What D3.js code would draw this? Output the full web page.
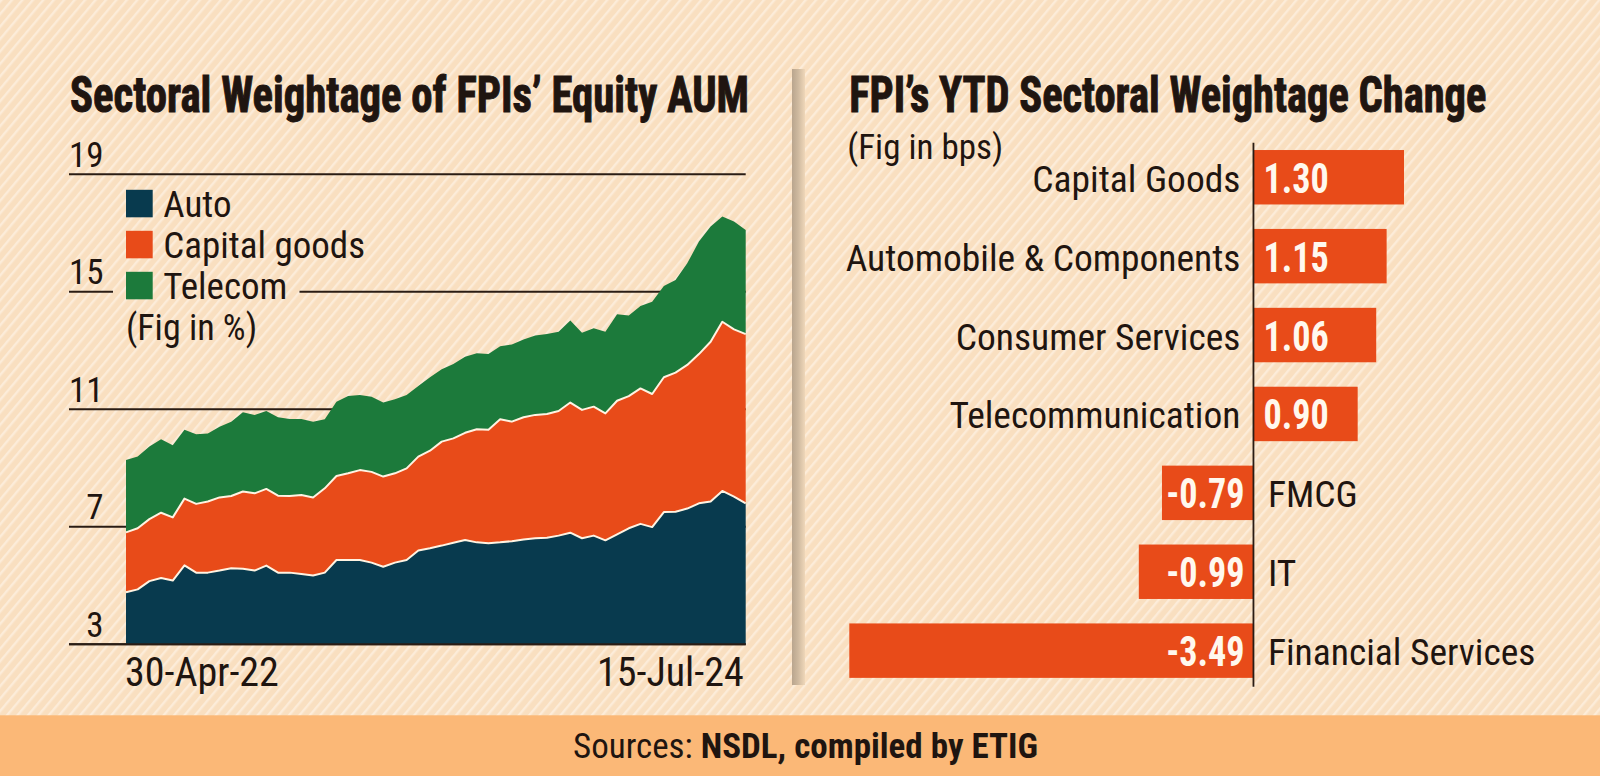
<!DOCTYPE html>
<html><head><meta charset="utf-8">
<script src="https://cdn.jsdelivr.net/npm/d3@7"></script>
<style>
html,body{margin:0;padding:0;background:#f8dcbc;overflow:hidden}
svg{display:block}
</style></head><body>
<svg id="chart" width="1600" height="776"></svg>
<script>
// ---------------- DATA ----------------
const areaSeries = ["Auto", "Capital goods", "Telecom"];
const autoValues = [4.77,4.87,5.15,5.26,5.17,5.69,5.44,5.44,5.51,5.59,5.57,5.51,5.68,5.44,5.44,5.39,5.34,5.44,5.87,5.87,5.87,5.78,5.64,5.78,5.87,6.19,6.27,6.36,6.46,6.55,6.47,6.44,6.47,6.51,6.57,6.61,6.63,6.70,6.80,6.61,6.70,6.54,6.74,6.95,7.10,6.99,7.50,7.51,7.62,7.80,7.86,8.22,8.03,7.80];
const capitalGoodsValues = [2.04,2.08,2.11,2.22,2.15,2.27,2.34,2.42,2.49,2.46,2.63,2.63,2.61,2.62,2.61,2.69,2.66,2.87,2.86,2.95,3.06,3.09,3.07,3.04,3.12,3.20,3.32,3.54,3.55,3.65,3.85,3.86,4.19,4.07,4.16,4.20,4.21,4.24,4.43,4.37,4.39,4.32,4.55,4.50,4.61,4.53,4.59,4.74,4.89,5.08,5.44,5.76,5.69,5.76];
const telecomValues = [2.46,2.44,2.47,2.50,2.46,2.34,2.37,2.32,2.41,2.53,2.70,2.67,2.65,2.67,2.62,2.59,2.58,2.35,2.53,2.63,2.56,2.56,2.52,2.52,2.50,2.40,2.50,2.46,2.53,2.59,2.59,2.58,2.49,2.63,2.65,2.70,2.72,2.70,2.79,2.63,2.67,2.78,2.95,2.74,2.81,3.14,3.11,3.15,3.46,3.83,3.92,3.58,3.67,3.54];
const xTickLabels = ["30-Apr-22", "15-Jul-24"];
const yTickValues = [3, 7, 11, 15, 19];

const barCategories = ["Capital Goods","Automobile & Components","Consumer Services","Telecommunication","FMCG","IT","Financial Services"];
const barValues = [1.30, 1.15, 1.06, 0.90, -0.79, -0.99, -3.49];
const barLabels = ["1.30","1.15","1.06","0.90","-0.79","-0.99","-3.49"];

const leftTitle = "Sectoral Weightage of FPIs\u2019 Equity AUM";
const rightTitle = "FPI\u2019s YTD Sectoral Weightage Change";
const leftNote = "(Fig in %)";
const rightNote = "(Fig in bps)";
const sourceLabel = "Sources: ";
const sourceText = "NSDL, compiled by ETIG";

// ---------------- STYLE ----------------
const FONT = "'Liberation Sans Narrow','Arial Narrow','Roboto Condensed','DejaVu Sans Condensed',sans-serif";
const INK = "#1f1510";
const colors = {"Auto": "#083a4e", "Capital goods": "#e84b19", "Telecom": "#1c7a3b"};
const BAR = "#e84b19";

const svg = d3.select("#chart");
const defs = svg.append("defs");
const pat = defs.append("pattern").attr("id","stripes").attr("patternUnits","userSpaceOnUse")
  .attr("width",8).attr("height",8).attr("patternTransform","rotate(40)");
pat.append("rect").attr("width",8).attr("height",8).attr("fill","#f9dfc0");
pat.append("rect").attr("x",0).attr("y",0).attr("width",2.4).attr("height",8).attr("fill","#fcecd9");
const grad = defs.append("linearGradient").attr("id","fold").attr("x1","0").attr("x2","1").attr("y1","0").attr("y2","0");
grad.append("stop").attr("offset","0").attr("stop-color","#b9a58e");
grad.append("stop").attr("offset","0.45").attr("stop-color","#cdb89e");
grad.append("stop").attr("offset","1").attr("stop-color","#efd7b9");

svg.append("rect").attr("width",1600).attr("height",776).attr("fill","url(#stripes)");
// footer band
svg.append("rect").attr("x",0).attr("y",715.3).attr("width",1600).attr("height",61).attr("fill","#fbb877");
// fold divider
svg.append("rect").attr("x",792).attr("y",69).attr("width",13).attr("height",616).attr("fill","url(#fold)");

// ---------------- LEFT: stacked area ----------------
const n = autoValues.length;
const rows = autoValues.map((v,i)=>({i, "Auto": v, "Capital goods": capitalGoodsValues[i], "Telecom": telecomValues[i]}));
const x = d3.scaleLinear().domain([0, n-1]).range([126, 745.7]);
const y = d3.scaleLinear().domain([3, 19]).range([644.3, 174.3]);
const yMin = y.domain()[0];
const stacked = d3.stack().keys(areaSeries)(rows);

const gGrid = svg.append("g");
const gArea = svg.append("g");
const gLegend = svg.append("g");

// title
svg.append("text").attr("x",70).attr("y",112).attr("font-family",FONT).attr("font-weight",700)
  .attr("font-size",50).attr("fill",INK).attr("stroke",INK).attr("stroke-width",1)
  .attr("textLength",679).attr("lengthAdjust","spacingAndGlyphs").text(leftTitle);

// legend
const legendRows = gLegend.selectAll("g.row").data(areaSeries).join("g").attr("class","row")
  .attr("transform",(d,i)=>`translate(126,${217.3 + i*41})`);
legendRows.append("rect").attr("x",0).attr("y",-27.5).attr("width",26.7).attr("height",27.5).attr("fill",d=>colors[d]);
legendRows.append("text").attr("x",37.3).attr("y",0).attr("font-family",FONT).attr("font-size",37)
  .attr("fill",INK).text(d=>d);
gLegend.append("text").attr("x",126).attr("y",340).attr("font-family",FONT).attr("font-size",36)
  .attr("fill",INK).text(leftNote);

// gridlines broken around legend rows
const x0Grid = 69, x1Grid = 745.7;
const rowBoxes = [];
legendRows.each(function(){ const b = this.getBBox(); const t = this.transform.baseVal.consolidate().matrix;
  rowBoxes.push({x0: b.x + t.e, x1: b.x + b.width + t.e, y0: b.y + t.f, y1: b.y + b.height + t.f}); });
yTickValues.forEach(t => {
  const yy = y(t);
  let segs = [[x0Grid, x1Grid]];
  rowBoxes.forEach(b => {
    if (yy >= b.y0 && yy <= b.y1) {
      const nx = [];
      segs.forEach(([a,c]) => {
        const ba = b.x0 - 13, bc = b.x1 + 12;
        if (bc <= a || ba >= c) { nx.push([a,c]); return; }
        if (ba > a) nx.push([a, ba]);
        if (bc < c) nx.push([bc, c]);
      });
      segs = nx;
    }
  });
  segs.forEach(([a,c]) => gGrid.append("line").attr("x1",a).attr("x2",c).attr("y1",yy).attr("y2",yy)
    .attr("stroke","#2a1c14").attr("stroke-width",2));
  gGrid.append("text").attr("x",103.5).attr("y",yy-7.5).attr("text-anchor","end")
    .attr("font-family",FONT).attr("font-size",35).attr("fill",INK).text(t);
});

// areas (clipped at the axis floor)
const area = d3.area().x((d,i)=>x(i)).y0(d=>y(Math.max(yMin, d[0]))).y1(d=>y(Math.max(yMin, d[1]))).curve(d3.curveLinear);
gArea.selectAll("path.area").data(stacked).join("path").attr("class","area")
  .attr("d",area).attr("fill",d=>colors[d.key]);
const topLine = d3.line().x((d,i)=>x(i)).y(d=>y(d[1]));
gArea.selectAll("path.sep").data(stacked.slice(0,2)).join("path").attr("class","sep")
  .attr("d",topLine).attr("fill","none").attr("stroke","#fff3e2").attr("stroke-width",2).attr("stroke-linejoin","round");
// baseline
gArea.append("line").attr("x1",x0Grid).attr("x2",x1Grid).attr("y1",y(yMin)).attr("y2",y(yMin))
  .attr("stroke","#2a1c14").attr("stroke-width",2);

// x labels
svg.append("text").attr("x",x(0)-1).attr("y",686).attr("font-family",FONT).attr("font-size",40)
  .attr("fill",INK).text(xTickLabels[0]);
svg.append("text").attr("x",x(n-1)-2).attr("y",686).attr("text-anchor","end").attr("font-family",FONT).attr("font-size",40)
  .attr("fill",INK).text(xTickLabels[1]);

// ---------------- RIGHT: bars ----------------
svg.append("text").attr("x",849.3).attr("y",111.7).attr("font-family",FONT).attr("font-weight",700)
  .attr("font-size",50).attr("fill",INK).attr("stroke",INK).attr("stroke-width",1)
  .attr("textLength",637).attr("lengthAdjust","spacingAndGlyphs").text(rightTitle);
svg.append("text").attr("x",847.3).attr("y",159.3).attr("font-family",FONT).attr("font-size",35)
  .attr("fill",INK).text(rightNote);

const xb = d3.scaleLinear().domain([-3.49, 1.30]).range([849.3, 1404]);
const yb = d3.scaleBand().domain(barCategories).range([137.8, 690.1]).paddingInner(0.31).paddingOuter(0.155);
const bars = barCategories.map((c,i)=>({c, v: barValues[i], label: barLabels[i]}));
const gBar = svg.append("g");
gBar.selectAll("rect").data(bars).join("rect")
  .attr("x",d=>xb(Math.min(0,d.v))).attr("width",d=>Math.abs(xb(d.v)-xb(0)))
  .attr("y",d=>yb(d.c)).attr("height",yb.bandwidth()).attr("fill",BAR);
// zero axis
gBar.append("line").attr("x1",xb(0)).attr("x2",xb(0)).attr("y1",142.7).attr("y2",686.7)
  .attr("stroke","#2a1c14").attr("stroke-width",1.8);
// value labels (condensed bold)
gBar.selectAll("text.val").data(bars).join("text").attr("class","val")
  .attr("x",d=> d.v>=0 ? xb(0)+10 : xb(0)-9)
  .attr("y",d=>yb(d.c)+yb.bandwidth()/2+15.5)
  .attr("text-anchor",d=> d.v>=0 ? "start" : "end")
  .attr("font-family",FONT).attr("font-weight",700).attr("font-size",42).attr("fill","#fff8ee")
  .text(d=>d.label)
  .each(function(){ const w = this.getComputedTextLength();
    d3.select(this).attr("textLength", w*0.86).attr("lengthAdjust","spacingAndGlyphs"); });
// category labels
gBar.selectAll("text.cat").data(bars).join("text").attr("class","cat")
  .attr("x",d=> d.v>=0 ? xb(0)-13 : xb(0)+14.5)
  .attr("y",d=>yb(d.c)+yb.bandwidth()/2+14.5)
  .attr("text-anchor",d=> d.v>=0 ? "end" : "start")
  .attr("font-family",FONT).attr("font-size",37.5).attr("fill",INK)
  .text(d=>d.c);

// ---------------- FOOTER ----------------
const ft = svg.append("text").attr("x",573).attr("y",758.3).attr("font-family",FONT).attr("font-size",35).attr("fill",INK);
ft.append("tspan").text(sourceLabel);
ft.append("tspan").attr("font-weight",700).text(sourceText);
</script>
</body></html>
